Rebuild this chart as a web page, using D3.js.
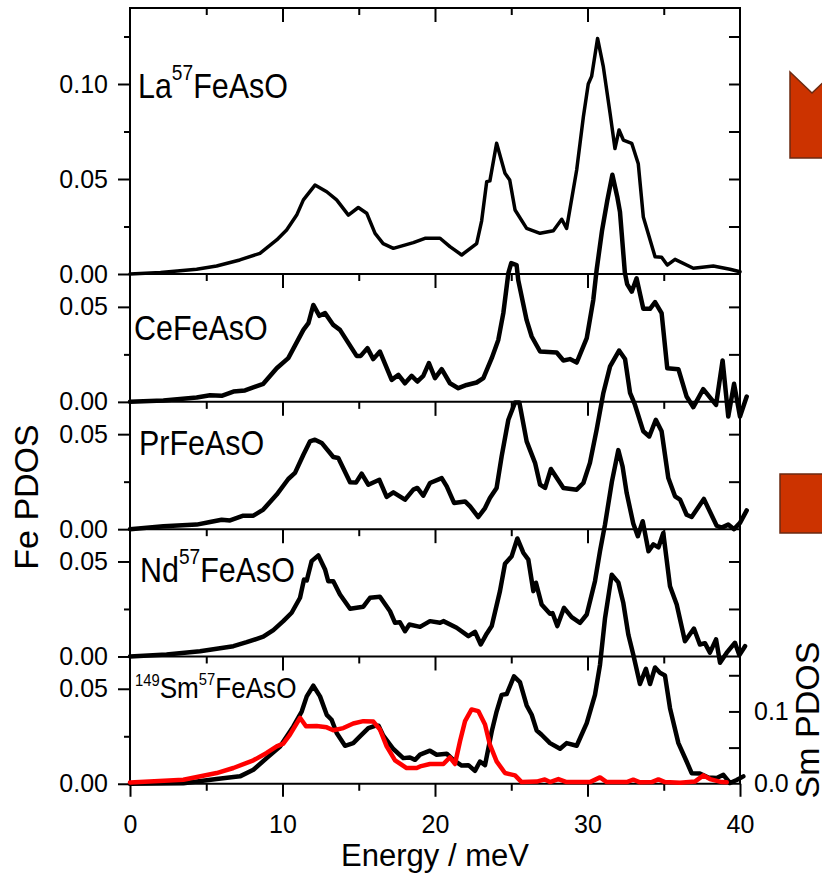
<!DOCTYPE html>
<html>
<head>
<meta charset="utf-8">
<script src="https://cdn.jsdelivr.net/npm/d3@7"></script>
<style>
  body { margin: 0; background: #fff; }
  svg { display: block; font-family: "Liberation Sans", Arial, sans-serif; }
</style>
</head>
<body>
<svg id="chart" width="822" height="879"></svg>
<script>
// energy axis
const energyMajor = [0, 10, 20, 30, 40]
const energyMinor = [5, 15, 25, 35]

// Fe PDOS, one curve per compound: [energy meV, PDOS]
const laFeAsO = [[0,0],[2,0.0008],[4.37,0.0025],[5.68,0.0042],[7.2,0.0074],[8.52,0.0109],[9.62,0.0179],[10.27,0.0232],[10.93,0.031],[11.37,0.039],[12.13,0.0468],[12.9,0.0433],[13.55,0.039],[14.32,0.031],[14.97,0.035],[15.52,0.032],[16.07,0.0214],[16.6,0.016],[17.27,0.0135],[18.58,0.0165],[19.34,0.0188],[20.33,0.0188],[20.98,0.0144],[21.75,0.010],[22.73,0.016],[23.06,0.028],[23.39,0.0486],[23.6,0.049],[24.04,0.0688],[24.59,0.053],[24.9,0.0495],[25.25,0.0337],[26.01,0.024],[26.89,0.0214],[27.76,0.0228],[28.31,0.0288],[28.63,0.024],[29.29,0.0547],[29.73,0.0828],[30.05,0.100],[30.27,0.104],[30.66,0.124],[31.04,0.109],[31.48,0.0846],[31.8,0.066],[32.07,0.0758],[32.35,0.0705],[32.9,0.0688],[33.33,0.058],[33.66,0.030],[34.43,0.0091],[34.86,0.0088],[35.23,0.0047],[35.74,0.0077],[36.94,0.003],[38.25,0.0042],[39.34,0.0025],[40,0.0012]]

const ceFeAsO = [[0,0],[2.19,0.0007],[4.37,0.0023],[5.25,0.0035],[6.01,0.0032],[6.78,0.0054],[7.54,0.006],[8.74,0.0095],[9.62,0.0177],[10.38,0.023],[11.37,0.0379],[11.7,0.0414],[12.02,0.051],[12.42,0.0453],[12.79,0.0467],[13.33,0.0405],[13.77,0.0379],[14.86,0.0242],[15.13,0.0242],[15.57,0.0283],[15.95,0.0225],[16.39,0.0265],[17.16,0.0116],[17.6,0.0142],[18.03,0.0098],[18.47,0.0137],[18.84,0.0107],[19.23,0.0137],[19.6,0.0204],[20.0,0.0125],[20.44,0.0172],[20.98,0.0098],[21.53,0.0072],[22.08,0.0089],[22.73,0.0102],[23.17,0.0125],[23.72,0.023],[24.15,0.0326],[24.48,0.0467],[24.81,0.0677],[25.0,0.073],[25.35,0.072],[25.46,0.064],[26.01,0.043],[26.34,0.0344],[26.89,0.0265],[27.98,0.026],[28.42,0.0218],[28.85,0.0225],[29.29,0.0207],[29.95,0.0335],[30.38,0.0537],[30.6,0.0695],[30.95,0.09],[31.3,0.106],[31.63,0.1195],[31.95,0.108],[32.13,0.1],[32.45,0.068],[32.6,0.062],[32.9,0.058],[33.22,0.065],[33.66,0.049],[34.1,0.049],[34.43,0.0525],[34.86,0.0467],[35.23,0.0177],[35.96,0.0172],[36.5,0.0028],[36.94,-0.0028],[37.59,0.0067],[38.43,-0.0016],[38.86,0.0218],[39.23,-0.0077],[39.61,0.0095],[40,-0.0077],[40.44,0.0028]]

const prFeAsO = [[0,0],[2.19,0.0015],[4.37,0.0024],[5.25,0.0038],[6.01,0.005],[6.56,0.0046],[7.43,0.0071],[8.09,0.0071],[8.74,0.0103],[9.62,0.0182],[10.38,0.0264],[10.82,0.0296],[11.37,0.0392],[11.8,0.0462],[12.13,0.0471],[12.57,0.0454],[13.33,0.038],[13.66,0.0375],[14.43,0.0247],[14.82,0.0245],[15.19,0.0292],[15.63,0.0234],[16.35,0.026],[16.83,0.017],[17.27,0.0194],[18.03,0.0155],[18.58,0.0208],[18.84,0.0217],[19.23,0.0176],[19.67,0.0243],[20.44,0.0269],[20.77,0.0225],[21.25,0.0138],[21.97,0.0146],[22.3,0.012],[22.84,0.0064],[23.28,0.0111],[23.6,0.0164],[24.04,0.0217],[24.37,0.0383],[24.81,0.0576],[25.25,0.0667],[25.53,0.0667],[26.01,0.0462],[26.56,0.0349],[26.89,0.0234],[27.22,0.0217],[27.6,0.0317],[28.42,0.0217],[29.29,0.0208],[29.73,0.0243],[30.16,0.0349],[30.6,0.0524],[31.04,0.0717],[31.48,0.0857],[32.07,0.094],[32.46,0.0896],[32.79,0.0717],[33.11,0.0655],[33.66,0.0515],[34.05,0.0488],[34.48,0.0576],[34.86,0.0515],[35.3,0.0269],[35.74,0.0173],[36.07,0.0155],[36.5,0.0076],[36.83,0.0064],[37.63,0.0159],[38.47,0.0018],[38.8,0.0008],[39.23,0.0024],[39.61,0],[40,0.0033],[40.44,0.0099]]

const ndFeAsO = [[0,0],[2.4,0.001],[4.59,0.0028],[6.78,0.0054],[7.65,0.0075],[8.74,0.0104],[9.4,0.0139],[10.05,0.0186],[10.6,0.023],[11.15,0.0309],[11.41,0.0405],[11.59,0.04],[11.91,0.0502],[12.35,0.0532],[12.79,0.0458],[13.0,0.0396],[13.33,0.0396],[13.77,0.0326],[14.43,0.0251],[15.3,0.0262],[15.74,0.0309],[16.39,0.0314],[17.05,0.0238],[17.38,0.0177],[17.7,0.018],[18.03,0.0133],[18.32,0.0168],[19.02,0.0156],[19.67,0.0186],[20.33,0.0177],[20.55,0.0186],[21.42,0.0151],[22.19,0.0107],[22.62,0.013],[23.0,0.0063],[23.39,0.012],[23.72,0.016],[24.26,0.0344],[24.59,0.0488],[25.03,0.0528],[25.4,0.0621],[25.79,0.0546],[26.12,0.051],[26.45,0.0344],[26.62,0.0388],[26.99,0.0274],[27.54,0.0225],[27.71,0.0228],[28.02,0.016],[28.46,0.0256],[28.96,0.0207],[29.51,0.0177],[29.95,0.0221],[30.49,0.0396],[30.82,0.0554],[31.15,0.0695],[31.6,0.092],[32.02,0.1086],[32.3,0.1],[32.57,0.086],[33.0,0.07],[33.3,0.0633],[33.62,0.0712],[34.0,0.0554],[34.32,0.059],[34.65,0.0574],[34.97,0.065],[35.41,0.037],[35.85,0.0274],[36.39,0.008],[36.98,0.0147],[37.37,0.0063],[37.7,0.007],[38.03,0.002],[38.43,0.009],[38.69,-0.0033],[39.13,0.002],[39.67,0.0072],[39.96,0.0007],[40.33,0.0054]]

const smFeAsO = [[0,0],[3.5,0.0003],[5.68,0.0025],[7.21,0.0039],[8.09,0.0074],[8.96,0.0135],[9.84,0.0196],[10.71,0.0302],[11.26,0.038],[11.59,0.046],[12.02,0.0516],[12.46,0.046],[12.9,0.0363],[13.22,0.0337],[13.55,0.0267],[14.1,0.02],[14.64,0.0214],[15.08,0.0249],[15.63,0.0293],[16.07,0.0305],[16.3,0.0305],[16.61,0.0253],[17.27,0.0183],[17.92,0.0135],[18.36,0.0138],[18.69,0.0126],[19.02,0.0153],[19.67,0.0174],[20.11,0.0153],[20.77,0.0158],[21.2,0.0126],[21.75,0.0096],[22.19,0.0098],[22.62,0.0068],[22.95,0.0117],[23.28,0.0098],[23.72,0.0275],[24.04,0.038],[24.37,0.0468],[24.7,0.0472],[25.18,0.0565],[25.57,0.0535],[26.01,0.0412],[26.34,0.0363],[26.67,0.028],[26.99,0.0258],[27.54,0.0214],[28.2,0.0184],[28.63,0.0214],[29.29,0.020],[29.95,0.0319],[30.49,0.0468],[30.82,0.0626],[31.15,0.0872],[31.59,0.110],[32.02,0.106],[32.35,0.0951],[32.68,0.0784],[33.0,0.068],[33.44,0.0525],[33.83,0.0605],[34.1,0.0525],[34.43,0.0612],[34.75,0.0584],[35.08,0.057],[35.41,0.0398],[35.96,0.0214],[36.5,0.0117],[36.83,0.0056],[37.37,0.0054],[37.92,0.0033],[38.47,0.003],[38.91,0.0047],[39.34,0.0004],[39.78,0.002],[40.22,0.0039]]

// Sm PDOS (right axis of the bottom panel)
const smPDOS = [[0,0.0018],[3.5,0.0056],[5.68,0.0148],[6.78,0.0218],[8.09,0.0324],[8.96,0.0426],[9.62,0.0518],[10.05,0.0556],[10.49,0.068],[11.15,0.0912],[11.54,0.0796],[12.24,0.0799],[12.9,0.078],[13.33,0.074],[13.99,0.077],[14.64,0.0833],[15.3,0.0866],[15.96,0.086],[16.39,0.075],[16.83,0.0518],[17.38,0.0324],[18.14,0.0218],[18.8,0.0218],[19.02,0.024],[19.67,0.0273],[20.55,0.0273],[20.98,0.0366],[21.31,0.0273],[21.64,0.0588],[21.97,0.0866],[22.4,0.1028],[22.84,0.1005],[23.28,0.082],[23.6,0.054],[24.04,0.031],[24.59,0.0148],[25.25,0.0116],[25.68,0.0023],[26.67,0.003],[27.2,0.006],[27.54,0.0023],[28.09,0.0065],[28.63,0.0023],[30.16,0.0023],[30.82,0.0088],[31.26,0.0023],[32.57,0.0023],[33.0,0.0056],[33.44,0.002],[34.21,0.0023],[34.65,0.006],[35.08,0.0023],[36.07,0.0015],[37.04,0.003],[37.6,0.0116],[38.03,0.0065],[38.8,0.0023],[39.13,0.002]]

const feMajorTop = [0, 0.05, 0.1]
const feMinorTop = [0.025, 0.075, 0.125]
const feMajor = [0, 0.05]
const feMinor = [0.025]
const smMajor = [0, 0.1]
const smMinor = [0.05, 0.15]

const svg = d3.select('#chart')
const x = d3.scaleLinear().domain([0, 40]).range([130, 740])
const perUnit = 1900   // px per unit of Fe PDOS, same in every panel

const panels = [
  {data: laFeAsO, yMax: 0.14, major: feMajorTop, minor: feMinorTop, width: 3.5},
  {data: ceFeAsO, yMax: 0.0673, major: feMajor, minor: feMinor, width: 4.5},
  {data: prFeAsO, yMax: 0.067, major: feMajor, minor: feMinor, width: 4.5},
  {data: ndFeAsO, yMax: 0.067, major: feMajor, minor: feMinor, width: 4.5},
  {data: smFeAsO, yMax: 0.067, major: feMajor, minor: feMinor, width: 4.5}
]

let cursor = 8
panels.forEach(p => {
  const h = p.yMax * perUnit
  p.top = cursor
  p.bottom = cursor + h
  p.y = d3.scaleLinear().domain([0, p.yMax]).range([p.bottom, p.top])
  cursor += h
})
const last = panels[panels.length - 1]
const ySm = d3.scaleLinear().domain([0, 0.176]).range([last.bottom, last.top])

const noDomain = g => g.select('.domain').remove()
const styleTicks = g => g.selectAll('.tick line').attr('stroke', '#000').attr('stroke-width', 2)

// y ticks
panels.forEach((p, i) => {
  svg.append('g').attr('transform', 'translate(130,0)')
    .call(d3.axisLeft(p.y).tickValues(p.major).tickSize(12).tickPadding(10).tickFormat(d3.format('.2f')))
    .call(noDomain).call(styleTicks)
    .selectAll('text').attr('font-size', 25).attr('fill', '#000')
  svg.append('g').attr('transform', 'translate(130,0)')
    .call(d3.axisLeft(p.y).tickValues(p.minor).tickSize(6).tickFormat(''))
    .call(noDomain).call(styleTicks)
  if (i < panels.length - 1) {
    svg.append('g').attr('transform', 'translate(740,0)')
      .call(d3.axisLeft(p.y).tickValues(p.major.concat(p.minor).filter(v => v > 0)).tickSize(11).tickFormat(''))
      .call(noDomain).call(styleTicks)
  }
})

// Sm PDOS right axis
svg.append('g').attr('transform', 'translate(740,0)')
  .call(d3.axisLeft(ySm).tickValues(smMinor.concat([0.1])).tickSize(11).tickFormat(''))
  .call(noDomain).call(styleTicks)
svg.append('g').attr('transform', 'translate(740,0)')
  .call(d3.axisRight(ySm).tickValues(smMajor).tickSize(0).tickPadding(14).tickFormat(d3.format('.1f')))
  .call(noDomain)
  .selectAll('text').attr('font-size', 25).attr('fill', '#000')

// energy ticks on every horizontal line, all pointing down
const hLines = [panels[0].top].concat(panels.map(p => p.bottom))
hLines.forEach((yy, i) => {
  const isBottom = i === hLines.length - 1
  svg.append('g').attr('transform', `translate(0,${yy})`)
    .call(d3.axisBottom(x).tickValues(isBottom ? energyMajor : energyMajor.slice(1, -1))
      .tickSize(isBottom ? 13 : 14).tickPadding(18).tickFormat(isBottom ? d3.format('d') : ''))
    .call(noDomain).call(styleTicks)
    .selectAll('text').attr('font-size', 25).attr('fill', '#000')
  svg.append('g').attr('transform', `translate(0,${yy})`)
    .call(d3.axisBottom(x).tickValues(energyMinor).tickSize(7).tickFormat(''))
    .call(noDomain).call(styleTicks)
  svg.append('line').attr('x1', 129).attr('x2', 741).attr('y1', yy).attr('y2', yy)
    .attr('stroke', '#000').attr('stroke-width', 2)
})
;[130, 740].forEach(xx => {
  svg.append('line').attr('x1', xx).attr('x2', xx).attr('y1', panels[0].top).attr('y2', last.bottom)
    .attr('stroke', '#000').attr('stroke-width', 2)
})

// curves
panels.forEach(p => {
  svg.append('path').datum(p.data)
    .attr('fill', 'none').attr('stroke', '#000').attr('stroke-width', p.width)
    .attr('stroke-linejoin', 'round').attr('stroke-linecap', 'round')
    .attr('d', d3.line().x(d => x(d[0])).y(d => p.y(d[1])))
})
svg.append('path').datum(smPDOS)
  .attr('fill', 'none').attr('stroke', '#ff0000').attr('stroke-width', 4.5)
  .attr('stroke-linejoin', 'round').attr('stroke-linecap', 'round')
  .attr('d', d3.line().x(d => x(d[0])).y(d => ySm(d[1])))

// compound labels: [text, font size, dy]
const sampleLabels = [
  {x: 138, y: 98, parts: [['La', 35, 0], ['57', 22, -18], ['FeAsO', 35, 18]]},
  {x: 134, y: 340, parts: [['CeFeAsO', 35, 0]]},
  {x: 139, y: 455, parts: [['PrFeAsO', 35, 0]]},
  {x: 140, y: 582, parts: [['Nd', 35, 0], ['57', 22, -18], ['FeAsO', 35, 18]]},
  {x: 135, y: 698, parts: [['149', 17, -12], ['Sm', 30, 12], ['57', 17, -13], ['FeAsO', 30, 13]]}
]
sampleLabels.forEach(l => {
  const t = svg.append('text').attr('transform', `translate(${l.x},${l.y}) scale(0.87,1)`)
  l.parts.forEach(([s, size, dy]) => t.append('tspan').attr('font-size', size).attr('dy', dy).text(s))
})

// axis titles
svg.append('text').attr('transform', 'translate(38,497) rotate(-90)')
  .attr('text-anchor', 'middle').attr('font-size', 34).text('Fe PDOS')
svg.append('text').attr('transform', 'translate(819,720) rotate(-90)')
  .attr('text-anchor', 'middle').attr('font-size', 34).text('Sm PDOS')
svg.append('text').attr('x', 435).attr('y', 866)
  .attr('text-anchor', 'middle').attr('font-size', 31).text('Energy / meV')

// orange markers at the right edge
svg.append('polygon').attr('points', '790,72 812,93 834,72 834,158 790,158')
  .attr('fill', '#cc3300').attr('stroke', '#6b2a12').attr('stroke-width', 1.5)
svg.append('rect').attr('x', 780).attr('y', 474).attr('width', 60).attr('height', 59)
  .attr('fill', '#cc3300').attr('stroke', '#6b2a12').attr('stroke-width', 1.5)
</script>
</body>
</html>
